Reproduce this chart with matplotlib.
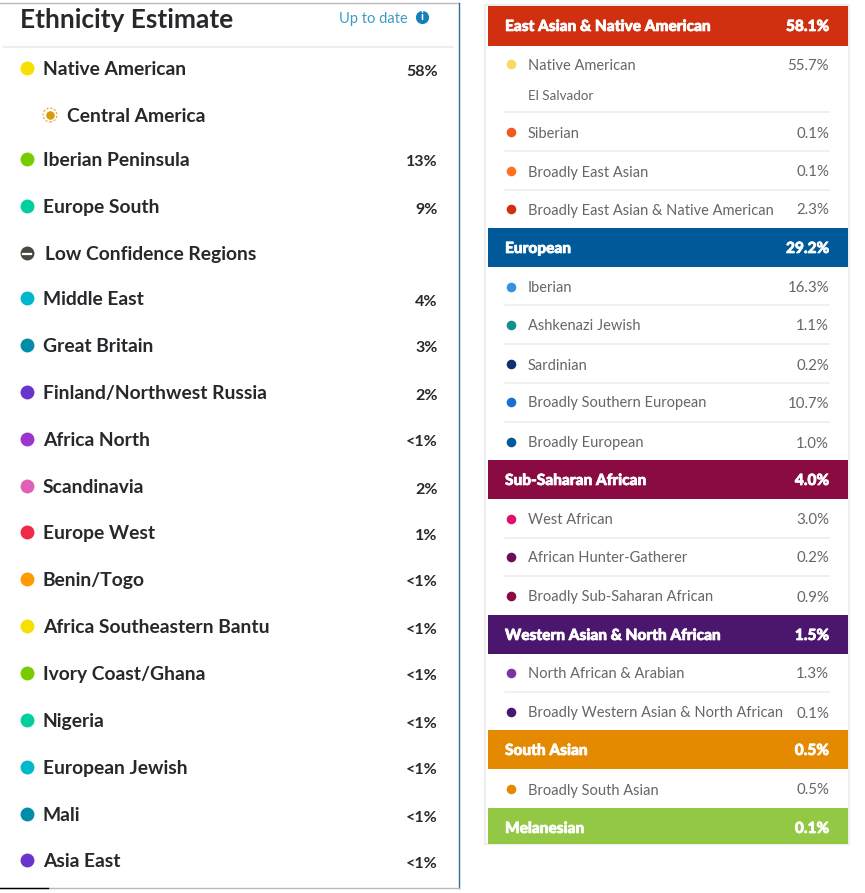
import matplotlib
matplotlib.use("Agg")
import matplotlib.pyplot as plt
import matplotlib.patheffects as pe
from matplotlib.patches import Rectangle

# left panel
regiones = ["Native American", "Central America", "Iberian Peninsula", "Europe South",
            "Low Confidence Regions", "Middle East", "Great Britain", "Finland/Northwest Russia",
            "Africa North", "Scandinavia", "Europe West", "Benin/Togo",
            "Africa Southeastern Bantu", "Ivory Coast/Ghana", "Nigeria", "European Jewish",
            "Mali", "Asia East"]
porcentajes = ["58%", "", "13%", "9%", "", "4%", "3%", "2%", "<1%", "2%", "1%", "<1%",
               "<1%", "<1%", "<1%", "<1%", "<1%", "<1%"]
colores_region = ["#f5e000", "#d89a10", "#76cc00", "#00cf9f", "#4a4640", "#00b8cc", "#008da8",
                  "#6a35cc", "#9b35cc", "#e060b8", "#ee2a4a", "#ff9a00", "#f5e000", "#76cc00",
                  "#00cf9f", "#00b8cc", "#008da8", "#6a35cc"]
filas_y = [68, 115, 159, 206, 253, 298, 345, 392, 439, 486, 532, 579, 626, 673, 720, 767, 814, 860]

# right panel
grupos = ["East Asian & Native American", "European", "Sub-Saharan African",
          "Western Asian & North African", "South Asian", "Melanesian"]
grupos_valor = ["58.1%", "29.2%", "4.0%", "1.5%", "0.5%", "0.1%"]
grupos_color = ["#d03010", "#005a9a", "#8a0a42", "#4b176e", "#e58a00", "#92c843"]
grupos_top = [6, 228, 460, 615, 730, 808]
grupos_bottom = [46, 267, 499, 654, 769, 844]

detalle = ["Native American", "Siberian", "Broadly East Asian", "Broadly East Asian & Native American",
           "Iberian", "Ashkenazi Jewish", "Sardinian", "Broadly Southern European", "Broadly European",
           "West African", "African Hunter-Gatherer", "Broadly Sub-Saharan African",
           "North African & Arabian", "Broadly Western Asian & North African", "Broadly South Asian"]
detalle_valor = ["55.7%", "0.1%", "0.1%", "2.3%", "16.3%", "1.1%", "0.2%", "10.7%", "1.0%",
                 "3.0%", "0.2%", "0.9%", "1.3%", "0.1%", "0.5%"]
detalle_color = ["#f8da60", "#f05a20", "#ff7020", "#d03010", "#3a90e0", "#109090", "#10306e",
                 "#1a70d0", "#005a9a", "#e0106a", "#6a0f5a", "#8a0a42", "#7a35a0", "#4b176e", "#e58a00"]
detalle_y = [64, 132, 171, 209, 287, 325, 364, 402, 442, 519, 557, 596, 673, 712, 789]
separadores = [112, 151, 190, 305, 344, 383, 422, 538, 576, 692]

fig = plt.figure(figsize=(8.65, 8.93), dpi=100)
ax = fig.add_axes([0, 0, 1, 1])
ax.set_xlim(0, 865)
ax.set_ylim(893, 0)
ax.axis("off")

fuente_izq = "Lato"
texto = "#26282b"
grueso = [pe.withStroke(linewidth=0.5, foreground="white")]

# frame of left panel
ax.plot([0, 459], [3, 3], color="#b8b8b8", lw=1)
ax.plot([459, 459], [3, 888], color="#2f6f94", lw=1)
ax.plot([0, 459], [888, 888], color="#b8b8b8", lw=1)
ax.plot([0, 48], [888, 888], color="black", lw=1)
ax.plot([4, 453], [46.5, 46.5], color="#eeeeee", lw=1.5)

ax.text(20, 20, "Ethnicity Estimate", fontsize=18.9, fontweight="bold", family=fuente_izq,
        color=texto, va="center")
ax.text(339, 18.5, "Up to date", fontsize=10.5, family=fuente_izq, color="#3c9cc4", va="center")
ax.scatter([422], [17], s=90, color="#1580b8", linewidths=0, zorder=3)
ax.text(422, 17, "i", fontsize=8.5, fontweight="bold", color="white", ha="center", va="center",
        family=fuente_izq, zorder=4)

for nombre, valor, color, y in zip(regiones, porcentajes, colores_region, filas_y):
    if nombre == "Central America":
        ax.scatter([50], [y], s=38, color=color, linewidths=0, zorder=3)
        ax.scatter([50], [y], s=100, facecolor="none", edgecolor="#f0a030", linestyle=(0, (2, 1.5)), lw=0.8)
        ax.text(67, y + 1.5, nombre, fontsize=13.9, fontweight="bold", family=fuente_izq, color=texto, va="center")
        continue
    ax.scatter([26.5], [y], s=100, color=color, linewidths=0, zorder=3)
    if nombre == "Low Confidence Regions":
        ax.plot([22.5, 30.5], [y + 0.5, y + 0.5], color="white", lw=1.6, zorder=4)
        ax.text(45, y + 1.5, nombre, fontsize=13.9, fontweight="bold", family=fuente_izq, color=texto, va="center")
        continue
    ax.text(43, y + 1.5, nombre, fontsize=13.9, fontweight="bold", family=fuente_izq, color=texto, va="center")
    ax.text(437.5, y + 3.5, valor, fontsize=11.5, fontweight="bold", family=fuente_izq, color=texto,
            va="center", ha="right")

# right panel
ax.add_patch(Rectangle((485, 5), 364, 839, facecolor="white", edgecolor="#eeeeee", lw=1.5, zorder=1))
for nombre, valor, color, top, bottom in zip(grupos, grupos_valor, grupos_color, grupos_top, grupos_bottom):
    ax.add_patch(Rectangle((487.5, top), 360, bottom - top, facecolor=color, edgecolor="none", zorder=2))
    y = top + 21
    ax.text(505, y, nombre, fontsize=11.1, fontweight="black", family="Lato", color="white", va="center", zorder=3,
            path_effects=grueso)
    ax.text(829, y, valor, fontsize=11.1, fontweight="black", family="Lato", color="white", va="center",
            ha="right", zorder=3, path_effects=grueso)

for nombre, valor, color, y in zip(detalle, detalle_valor, detalle_color, detalle_y):
    ax.scatter([510.5], [y], s=48, color=color, linewidths=0, zorder=3)
    ax.text(528, y + 1.5, nombre, fontsize=10.5, family="Lato", color="#666666", va="center", zorder=3)
    ax.text(829, y + 1.5, valor, fontsize=10.8, family="Lato", color="#666666", va="center", ha="right", zorder=3)

ax.text(528, 95.5, "El Salvador", fontsize=9.6, family="Lato", color="#666666", va="center", zorder=3)

for y in separadores:
    ax.plot([505, 829], [y, y], color="#eeeeee", lw=1.2, zorder=2)

fig.savefig("out.png", dpi=100, facecolor="white")
